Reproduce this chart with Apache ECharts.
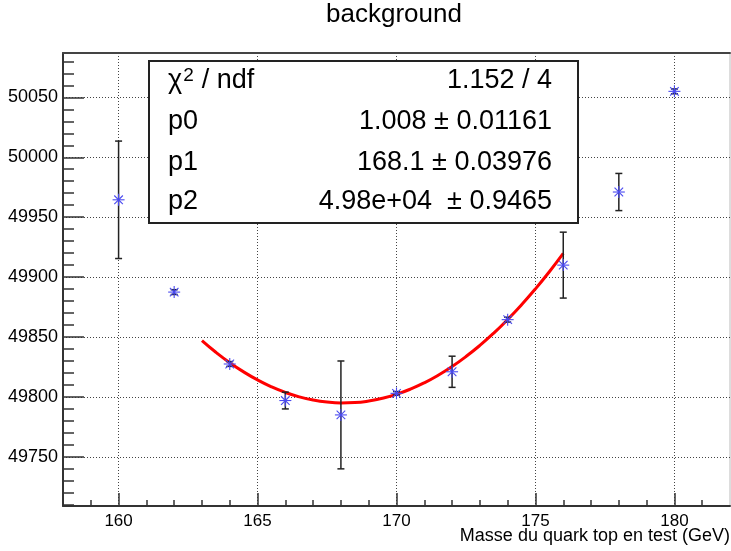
<!DOCTYPE html>
<html><head><meta charset="utf-8">
<script src="https://cdn.jsdelivr.net/npm/echarts@6/dist/echarts.min.js"></script>
<style>html,body{margin:0;padding:0;background:#fff}#c{width:731px;height:551px}</style>
</head><body><div id="c"></div>
<script>
// ---- data ----
const titleText = 'background';
const xAxisTitle = 'Masse du quark top en test (GeV)';
const massX  = [160, 162, 164, 166, 168, 170, 172, 174, 176, 178, 180];
const bkgY   = [49964.5, 49887.5, 49827.5, 49797, 49785, 49803, 49821, 49864.5, 49910, 49971, 50055];
const bkgErr = [49, 2, 2, 7, 45, 1.5, 13, 2, 27.5, 15.5, 2];
const fitX = [163, 163.5, 164, 164.5, 165, 165.5, 166, 166.5, 167, 167.5, 168, 168.5, 169, 169.5,
              170, 170.5, 171, 171.5, 172, 172.5, 173, 173.5, 174, 174.5, 175, 175.5, 176];
const fitY = [49847.0, 49837.3, 49828.6, 49820.9, 49814.2, 49808.5, 49803.8, 49800.1, 49797.4, 49795.7,
              49795.0, 49795.3, 49796.6, 49798.9, 49802.2, 49806.5, 49811.8, 49818.1, 49825.4, 49833.7,
              49843.0, 49853.3, 49864.6, 49876.9, 49890.2, 49904.5, 49919.8];
const xMajorTicks = [160, 165, 170, 175, 180];
const xMinorTicks = [159, 161, 162, 163, 164, 166, 167, 168, 169, 171, 172, 173, 174, 176, 177, 178, 179, 181];
const yMajorTicks = [49750, 49800, 49850, 49900, 49950, 50000, 50050];
const yMinorTicks = [49710, 49720, 49730, 49740, 49760, 49770, 49780, 49790, 49810, 49820, 49830, 49840,
                     49860, 49870, 49880, 49890, 49910, 49920, 49930, 49940, 49960, 49970, 49980, 49990,
                     50010, 50020, 50030, 50040, 50060, 50070, 50080];
const statNames  = ['χ2 / ndf', 'p0', 'p1', 'p2'];
const statValues = ['1.152 / 4', '1.008 ± 0.01161', '168.1 ± 0.03976', '4.98e+04  ± 0.9465'];

// ---- chart ----
const FONT = '"Liberation Sans", Arial, Helvetica, sans-serif';
const X_MIN = 158, X_MAX = 182, Y_MIN = 49709, Y_MAX = 50087;
const axisDark = '#333';
const plain = v => String(v);

const chart = echarts.init(document.getElementById('c'), null, {renderer: 'canvas'});

const pointData = massX.map((x, i) => [x, bkgY[i], bkgErr[i]]);
const fitData = fitX.map((x, i) => [x, fitY[i]]);

const rowY = [81, 121.5, 162.5, 202];
const statGraphics = [{
  type: 'rect', z: 100,
  shape: {x: 149, y: 61, width: 429, height: 162},
  style: {fill: '#fff', stroke: '#222', lineWidth: 2}
}];
statNames.forEach((n, i) => {
  let style;
  if (i === 0) {
    style = {
      text: '{a|χ}{b|2}{a|/ ndf}',
      rich: {
        a: {fontSize: 27, fontFamily: FONT, fill: '#000', lineHeight: 30},
        b: {fontSize: 19, fontFamily: FONT, fill: '#000', lineHeight: 30, verticalAlign: 'top', padding: [0, 8, 9, 1]}
      },
      verticalAlign: 'middle', align: 'left'
    };
  } else {
    style = {text: n, fontSize: 27, fontFamily: FONT, fill: '#000', verticalAlign: 'middle', align: 'left'};
  }
  statGraphics.push({type: 'text', z: 101, x: 168, y: rowY[i], style: style});
  statGraphics.push({type: 'text', z: 101, x: 552, y: rowY[i],
    style: {text: statValues[i], fontSize: 27, fontFamily: FONT, fill: '#000', verticalAlign: 'middle', align: 'right'}});
});

const option = {
  animation: false,
  backgroundColor: '#fff',
  title: [
    {
      text: titleText, left: 326, top: 2, padding: 0,
      textStyle: {fontSize: 26, fontWeight: 'normal', color: '#000', fontFamily: FONT}
    },
    {
      text: xAxisTitle, right: 1, top: 527, padding: 0,
      textStyle: {fontSize: 18, fontWeight: 'normal', color: '#000', fontFamily: FONT}
    }
  ],
  grid: {left: 63, right: 1, top: 53, bottom: 45, containLabel: false, outerBoundsMode: 'none',
         show: true, borderColor: '#bbb', borderWidth: 1},
  xAxis: [
    {
      type: 'value', min: X_MIN, max: X_MAX, position: 'bottom',
      axisLine: {show: true, onZero: false, lineStyle: {color: axisDark, width: 2}},
      axisTick: {show: true, inside: true, length: 13, customValues: xMajorTicks, lineStyle: {color: axisDark, width: 1.5}},
      axisLabel: {show: true, customValues: xMajorTicks, formatter: plain, fontSize: 17, color: '#000', fontFamily: FONT, margin: 7},
      splitLine: {show: true, lineStyle: {color: '#444', type: [1, 2], width: 1}}
    },
    {
      type: 'value', min: X_MIN, max: X_MAX, position: 'bottom',
      axisLine: {show: false, onZero: false},
      axisTick: {show: true, inside: true, length: 6, customValues: xMinorTicks, lineStyle: {color: axisDark, width: 1.5}},
      axisLabel: {show: false}, splitLine: {show: false}
    },
    {
      type: 'value', min: X_MIN, max: X_MAX, position: 'top',
      axisLine: {show: true, onZero: false, lineStyle: {color: '#444', width: 2}},
      axisTick: {show: false}, axisLabel: {show: false}, splitLine: {show: false}
    }
  ],
  yAxis: [
    {
      type: 'value', min: Y_MIN, max: Y_MAX, position: 'left',
      axisLine: {show: true, onZero: false, lineStyle: {color: axisDark, width: 2}},
      axisTick: {show: true, inside: true, length: 21, customValues: yMajorTicks, lineStyle: {color: axisDark, width: 1.5}},
      axisLabel: {show: true, customValues: yMajorTicks, formatter: plain, fontSize: 18, color: '#000', fontFamily: FONT, margin: 5},
      splitLine: {show: true, lineStyle: {color: '#444', type: [1, 2], width: 1}}
    },
    {
      type: 'value', min: Y_MIN, max: Y_MAX, position: 'left',
      axisLine: {show: false, onZero: false},
      axisTick: {show: true, inside: true, length: 11, customValues: yMinorTicks, lineStyle: {color: axisDark, width: 1.5}},
      axisLabel: {show: false}, splitLine: {show: false}
    }
  ],
  series: [
    {
      type: 'line', name: 'fit', xAxisIndex: 0, yAxisIndex: 0,
      data: fitData, smooth: true, showSymbol: false, symbol: 'none', z: 3,
      lineStyle: {color: '#ff0000', width: 3}
    },
    {
      type: 'custom', name: 'background', xAxisIndex: 0, yAxisIndex: 0, z: 4,
      data: pointData,
      encode: {x: 0, y: 1},
      renderItem: function (params, api) {
        const x = api.value(0), y = api.value(1), e = api.value(2);
        const c = api.coord([x, y]);
        const t = api.coord([x, y + e]);
        const b = api.coord([x, y - e]);
        const cap = 3.5, s = 6, d = 4.3;
        const bar = {stroke: '#222', lineWidth: 1.5};
        const mk = {stroke: '#4a4af0', lineWidth: 1.1};
        return {
          type: 'group',
          children: [
            {type: 'line', shape: {x1: c[0], y1: t[1], x2: c[0], y2: b[1]}, style: bar},
            {type: 'line', shape: {x1: c[0] - cap, y1: t[1], x2: c[0] + cap, y2: t[1]}, style: bar},
            {type: 'line', shape: {x1: c[0] - cap, y1: b[1], x2: c[0] + cap, y2: b[1]}, style: bar},
            {type: 'line', shape: {x1: c[0] - s, y1: c[1], x2: c[0] + s, y2: c[1]}, style: mk},
            {type: 'line', shape: {x1: c[0], y1: c[1] - s, x2: c[0], y2: c[1] + s}, style: mk},
            {type: 'line', shape: {x1: c[0] - d, y1: c[1] - d, x2: c[0] + d, y2: c[1] + d}, style: mk},
            {type: 'line', shape: {x1: c[0] - d, y1: c[1] + d, x2: c[0] + d, y2: c[1] - d}, style: mk}
          ]
        };
      }
    }
  ],
  graphic: statGraphics
};
chart.setOption(option);
</script>
</body></html>
